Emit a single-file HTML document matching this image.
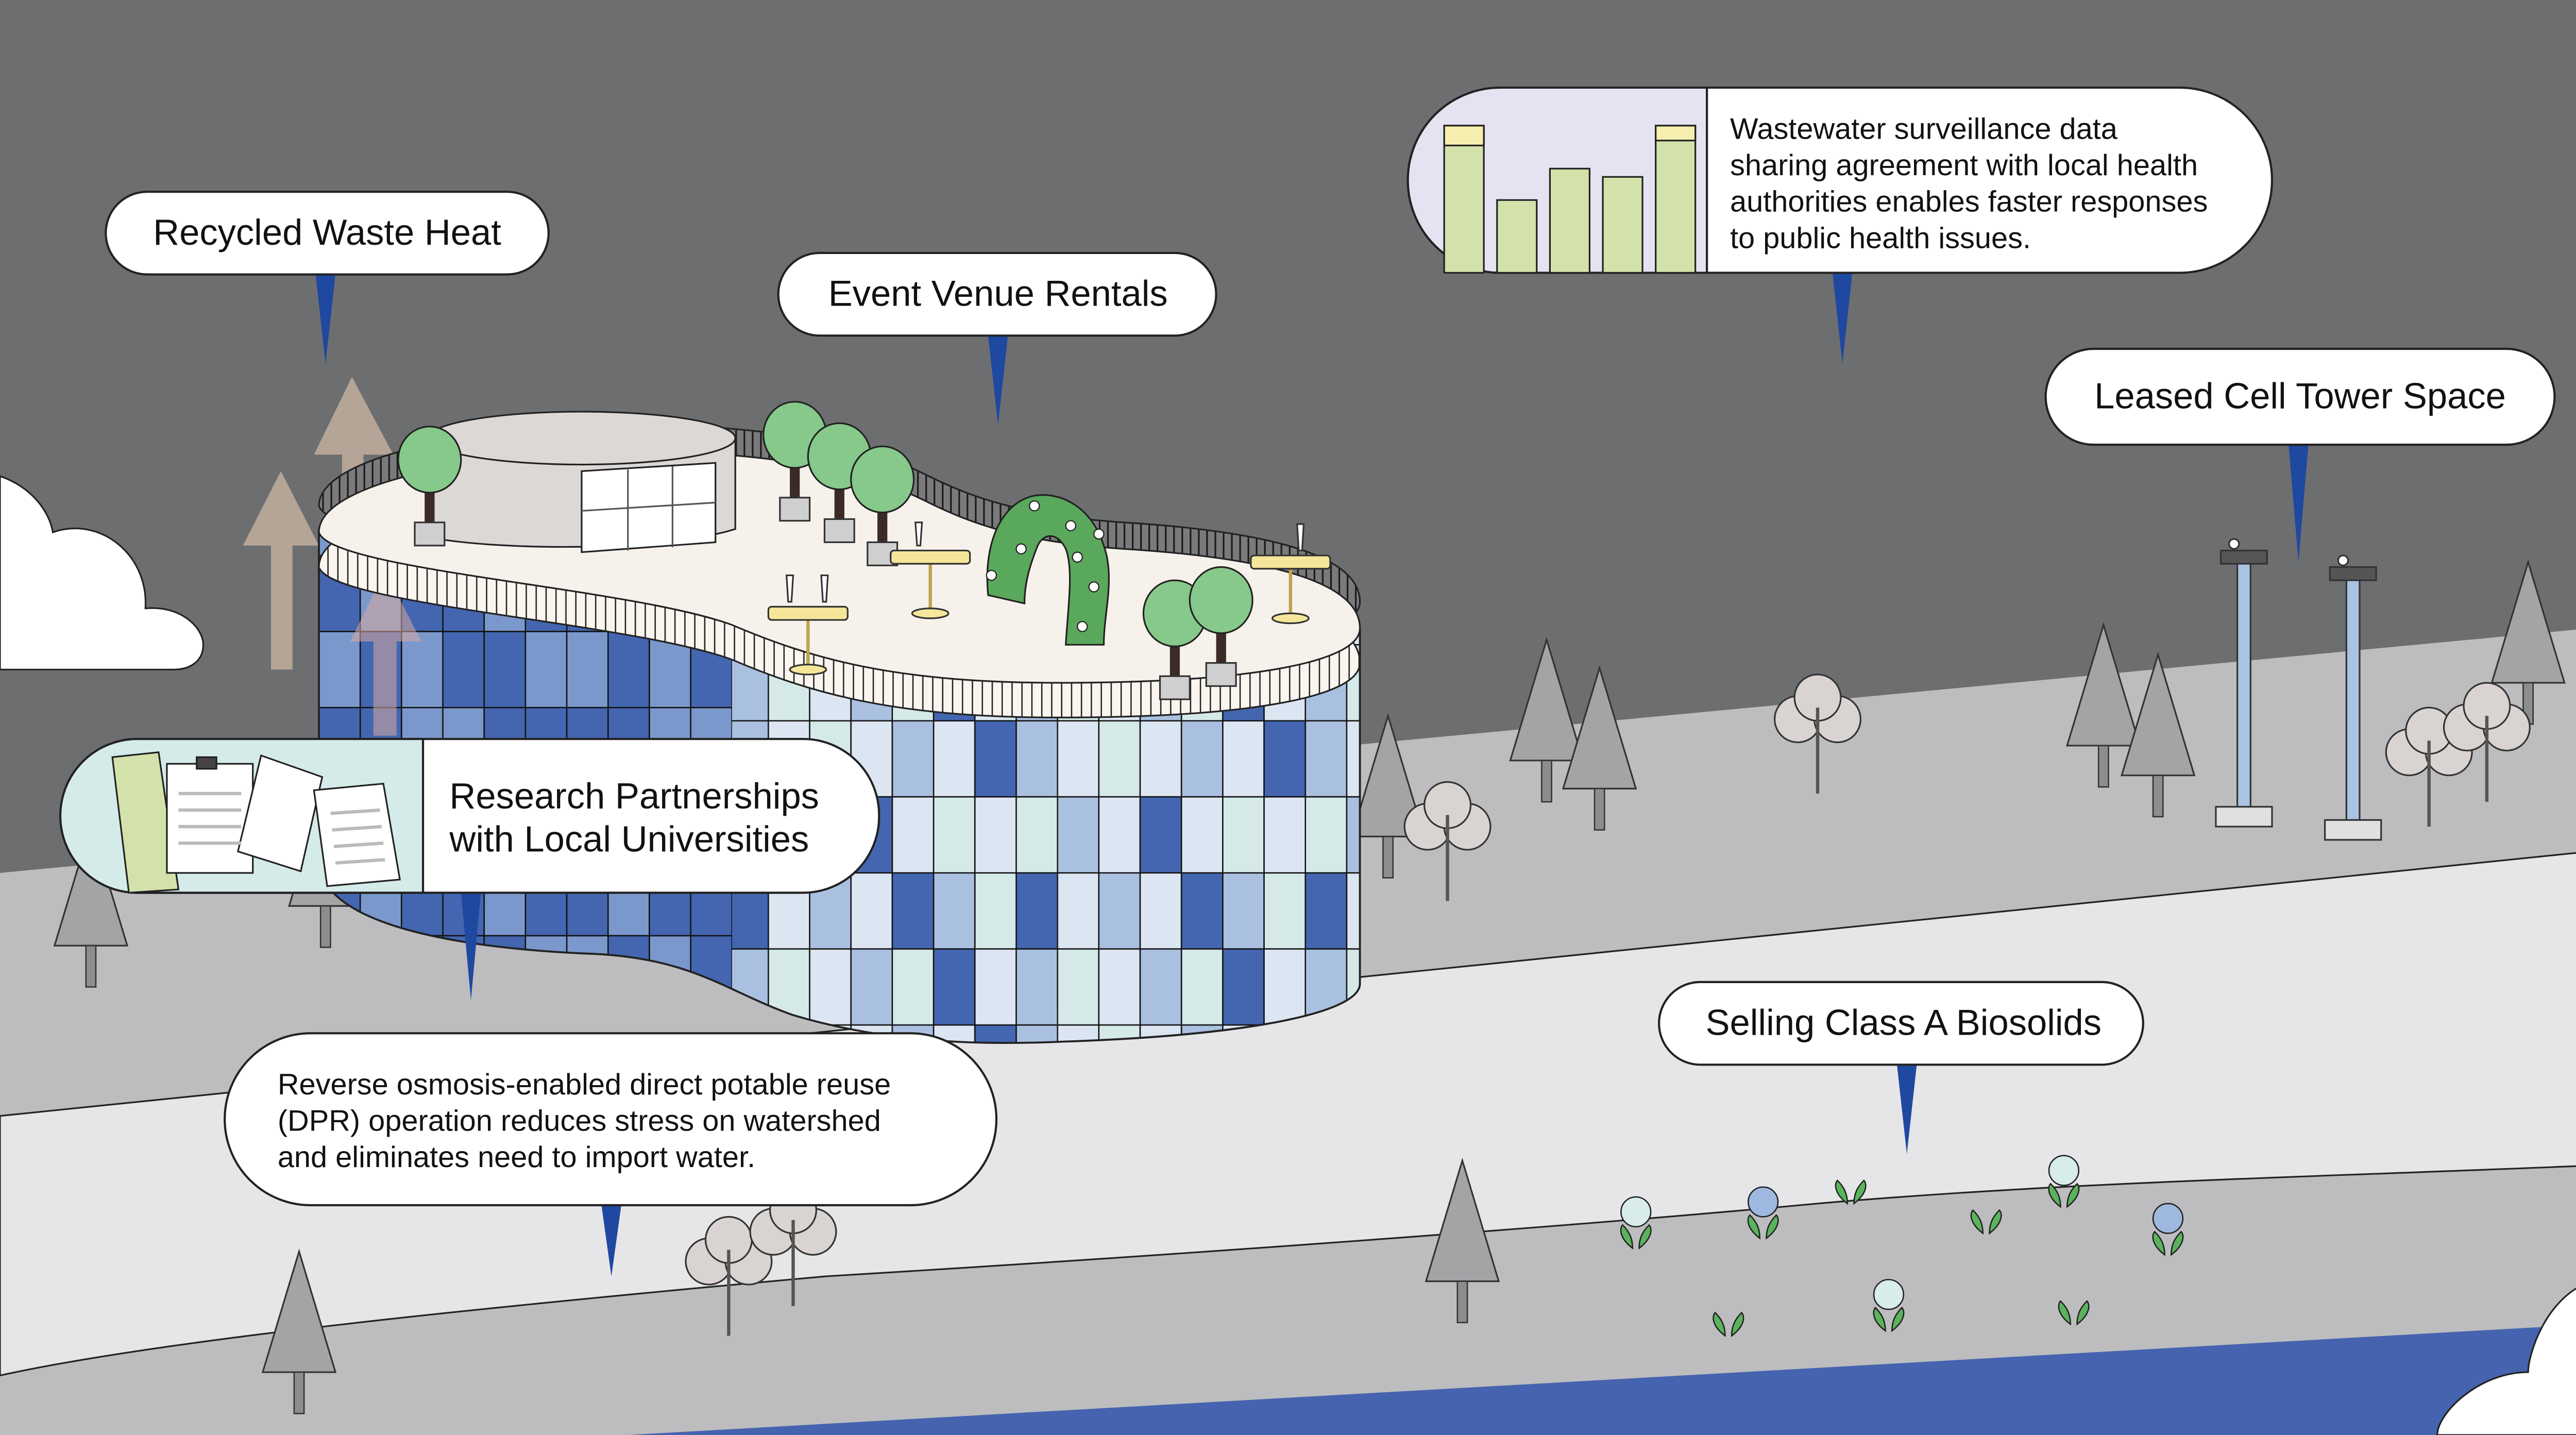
<!DOCTYPE html>
<html><head><meta charset="utf-8"><style>
html,body{margin:0;padding:0;background:#6d6e70;}
svg{display:block}
text{font-family:"Liberation Sans",sans-serif;fill:#111}
</style></head><body>
<svg width="5029" height="2785" viewBox="0 0 1568 868" preserveAspectRatio="none" xmlns="http://www.w3.org/2000/svg">
<defs>
<pattern id="rim" width="6" height="40" patternUnits="userSpaceOnUse"><rect width="6" height="40" fill="#fbf5ef"/><line x1="0.5" y1="0" x2="0.5" y2="40" stroke="#222" stroke-width="0.8"/></pattern>
<pattern id="rail" width="5" height="40" patternUnits="userSpaceOnUse"><rect width="5" height="40" fill="#7a7a7c"/><line x1="0.5" y1="0" x2="0.5" y2="40" stroke="#1a1a1a" stroke-width="1"/></pattern>
<pattern id="tA" width="150" height="184" patternUnits="userSpaceOnUse" x="193" y="336">
<g stroke="#111" stroke-width="0.8">
<rect x="0" y="0" width="25" height="46" fill="#4466b0"/><rect x="25" y="0" width="25" height="46" fill="#7b98cc"/><rect x="50" y="0" width="25" height="46" fill="#4466b0"/><rect x="75" y="0" width="25" height="46" fill="#4466b0"/><rect x="100" y="0" width="25" height="46" fill="#7b98cc"/><rect x="125" y="0" width="25" height="46" fill="#4466b0"/>
<rect x="0" y="46" width="25" height="46" fill="#7b98cc"/><rect x="25" y="46" width="25" height="46" fill="#4466b0"/><rect x="50" y="46" width="25" height="46" fill="#7b98cc"/><rect x="75" y="46" width="25" height="46" fill="#4466b0"/><rect x="100" y="46" width="25" height="46" fill="#4466b0"/><rect x="125" y="46" width="25" height="46" fill="#7b98cc"/>
<rect x="0" y="92" width="25" height="46" fill="#4466b0"/><rect x="25" y="92" width="25" height="46" fill="#4466b0"/><rect x="50" y="92" width="25" height="46" fill="#7b98cc"/><rect x="75" y="92" width="25" height="46" fill="#7b98cc"/><rect x="100" y="92" width="25" height="46" fill="#4466b0"/><rect x="125" y="92" width="25" height="46" fill="#4466b0"/>
<rect x="0" y="138" width="25" height="46" fill="#7b98cc"/><rect x="25" y="138" width="25" height="46" fill="#4466b0"/><rect x="50" y="138" width="25" height="46" fill="#4466b0"/><rect x="75" y="138" width="25" height="46" fill="#7b98cc"/><rect x="100" y="138" width="25" height="46" fill="#4466b0"/><rect x="125" y="138" width="25" height="46" fill="#7b98cc"/>
</g></pattern>
<pattern id="tB" width="175" height="184" patternUnits="userSpaceOnUse" x="465" y="436">
<g stroke="#111" stroke-width="0.8">
<rect x="0" y="0" width="25" height="46" fill="#dce6f2"/><rect x="25" y="0" width="25" height="46" fill="#d4e9e8"/><rect x="50" y="0" width="25" height="46" fill="#dce6f2"/><rect x="75" y="0" width="25" height="46" fill="#aac0e0"/><rect x="100" y="0" width="25" height="46" fill="#dce6f2"/><rect x="125" y="0" width="25" height="46" fill="#4466b0"/><rect x="150" y="0" width="25" height="46" fill="#aac0e0"/>
<rect x="0" y="46" width="25" height="46" fill="#aac0e0"/><rect x="25" y="46" width="25" height="46" fill="#dce6f2"/><rect x="50" y="46" width="25" height="46" fill="#4466b0"/><rect x="75" y="46" width="25" height="46" fill="#dce6f2"/><rect x="100" y="46" width="25" height="46" fill="#d4e9e8"/><rect x="125" y="46" width="25" height="46" fill="#dce6f2"/><rect x="150" y="46" width="25" height="46" fill="#d4e9e8"/>
<rect x="0" y="92" width="25" height="46" fill="#dce6f2"/><rect x="25" y="92" width="25" height="46" fill="#aac0e0"/><rect x="50" y="92" width="25" height="46" fill="#dce6f2"/><rect x="75" y="92" width="25" height="46" fill="#4466b0"/><rect x="100" y="92" width="25" height="46" fill="#aac0e0"/><rect x="125" y="92" width="25" height="46" fill="#d4e9e8"/><rect x="150" y="92" width="25" height="46" fill="#4466b0"/>
<rect x="0" y="138" width="25" height="46" fill="#d4e9e8"/><rect x="25" y="138" width="25" height="46" fill="#dce6f2"/><rect x="50" y="138" width="25" height="46" fill="#aac0e0"/><rect x="75" y="138" width="25" height="46" fill="#d4e9e8"/><rect x="100" y="138" width="25" height="46" fill="#4466b0"/><rect x="125" y="138" width="25" height="46" fill="#dce6f2"/><rect x="150" y="138" width="25" height="46" fill="#aac0e0"/>
</g></pattern>
<clipPath id="fac"><path d="M193,320 L193,520 C193,560 280,574 360,577 C420,580 440,600 480,614 C540,632 600,632 645,630 C760,626 823,612 823,595 L823,380 Z"/></clipPath>
<g id="cone"><polygon points="0,-98 -22,-25 22,-25" fill="#a3a4a6" stroke="#333" stroke-width="1"/><rect x="-3" y="-25" width="6" height="25" fill="#8c8d8f" stroke="#333" stroke-width="0.8"/></g>
<g id="puff"><circle cx="-12" cy="-45" r="14" fill="#d9d4d2" stroke="#333"/><circle cx="12" cy="-45" r="14" fill="#d9d4d2" stroke="#333"/><circle cx="0" cy="-58" r="14" fill="#d9d4d2" stroke="#333"/><line x1="0" y1="-52" x2="0" y2="0" stroke="#555" stroke-width="2"/></g>
<g id="leaf"><path d="M-2,8 C-10,2 -10,-4 -8,-6 C-4,-2 -2,2 -2,8Z M2,8 C10,2 10,-4 8,-6 C4,-2 2,2 2,8Z" fill="#5ab45c" stroke="#222" stroke-width="0.8"/></g>
<g id="rtree"><rect x="-3" y="-30" width="6" height="30" fill="#3b2a25"/><rect x="-9" y="-4" width="18" height="14" fill="#cfcfcf" stroke="#333"/><ellipse cx="0" cy="-42" rx="19" ry="20" fill="#86c98a" stroke="#222"/></g>
<g id="table"><line x1="0" y1="0" x2="0" y2="34" stroke="#bba650" stroke-width="2"/><ellipse cx="0" cy="34" rx="11" ry="3" fill="#f5e69a" stroke="#333"/><rect x="-24" y="-4" width="48" height="8" fill="#f5e69a" stroke="#333" rx="2"/></g>
<path id="roof" d="M193,322 C193,290 300,273 380,273 C460,273 520,283 560,303 C590,318 620,328 680,332 C760,337 823,350 823,380 C823,400 760,413 640,413 C540,413 490,398 443,378 C380,355 200,345 193,322 Z"/>
</defs>

<rect width="1568" height="868" fill="#6d6e70"/>
<polygon points="0,528 1568,380 1568,868 0,868" fill="#bdbdbf"/>
<path d="M0,675 L1568,515 L1568,705 C1400,712 1250,715 1100,728 C950,742 700,760 500,772 C300,790 100,810 0,832 Z" fill="#e6e6e8" stroke="#222" stroke-width="1"/>
<path d="M380,868 L1568,801 L1568,868 Z" fill="#4563ae"/>
<path d="M1568,775 C1540,785 1530,820 1530,830 C1500,830 1475,855 1475,868 L1568,868 Z" fill="#fff" stroke="#222"/>
<path d="M0,288 C20,295 30,310 32,322 C60,312 90,335 88,368 C110,366 123,380 123,390 C123,400 115,405 105,405 L0,405 Z" fill="#fff" stroke="#222"/>

<use href="#cone" x="936" y="485"/><use href="#cone" x="968" y="502"/><use href="#cone" x="1273" y="476"/><use href="#cone" x="1306" y="494"/><use href="#cone" x="1530" y="438"/><use href="#cone" x="840" y="531"/>
<use href="#puff" x="1100" y="480"/><use href="#puff" x="876" y="545"/><use href="#puff" x="1470" y="500"/><use href="#puff" x="1505" y="485"/>
<use href="#cone" x="55" y="597"/><use href="#cone" x="197" y="573"/>

<g stroke="#333" stroke-width="1">
<rect x="1354" y="340" width="8" height="150" fill="#a9c3e3"/><rect x="1341" y="488" width="34" height="12" fill="#e0e0e0"/><rect x="1344" y="333" width="28" height="8" fill="#555"/><circle cx="1352" cy="329" r="3" fill="#fff"/>
<rect x="1420" y="350" width="8" height="148" fill="#a9c3e3"/><rect x="1407" y="496" width="34" height="12" fill="#e0e0e0"/><rect x="1410" y="343" width="28" height="8" fill="#555"/><circle cx="1418" cy="339" r="3" fill="#fff"/>
</g>

<g fill="#b5a596">
<polygon points="170,285 147,330 164,330 164,405 177,405 177,330 193,330"/>
<polygon points="213,228 190,275 207,275 207,445 220,445 220,275 238,275"/>
</g>

<!-- building -->
<use href="#roof" transform="translate(0,-16)" fill="url(#rail)" stroke="#222"/>
<g clip-path="url(#fac)">
<rect x="190" y="300" width="280" height="330" fill="url(#tA)"/>
<path d="M443,378 C490,398 540,413 640,413 L640,640 L443,640 Z" fill="url(#tB)"/>
<rect x="640" y="380" width="185" height="260" fill="url(#tB)"/>
</g>
<path d="M193,320 L193,520 C193,560 280,574 360,577 C420,580 440,600 480,614 C540,632 600,632 645,630 C760,626 823,612 823,595 L823,380" fill="none" stroke="#222" stroke-width="1.2"/>
<polygon points="233,345 212,388 226,388 226,445 240,445 240,388 255,388" fill="#d8a9a0" opacity="0.55"/>
<use href="#roof" transform="translate(0,21)" fill="url(#rim)" stroke="#222"/>
<use href="#roof" fill="#f7f1ec" stroke="#222"/>
<path d="M260,265 L260,325 C300,333 400,334 445,320 L445,265 Z" fill="#dcd8d6" stroke="#222"/>
<ellipse cx="352" cy="265" rx="93" ry="16" fill="#dcd8d6" stroke="#222"/>
<path d="M352,285 L433,280 L433,328 L352,334 Z" fill="#fff" stroke="#222"/>
<g stroke="#555"><line x1="380" y1="284" x2="380" y2="333"/><line x1="407" y1="282" x2="407" y2="331"/><line x1="352" y1="309" x2="433" y2="304"/></g>
<use href="#rtree" x="260" y="320"/>
<use href="#rtree" x="481" y="305"/><use href="#rtree" x="508" y="318"/><use href="#rtree" x="534" y="332"/>
<use href="#table" x="563" y="337"/><use href="#table" x="781" y="340"/><use href="#table" x="489" y="371"/>
<g stroke="#333" fill="#fff"><path d="M554,316 L558,316 L557,330 L555,330Z"/><path d="M785,317 L789,317 L788,333 L786,333Z"/><path d="M476,348 L480,348 L479,364 L477,364Z"/><path d="M497,348 L501,348 L500,364 L498,364Z"/></g>
<path d="M598,360 C595,330 605,305 625,300 C640,297 660,305 668,330 C675,350 668,370 668,390 L645,390 C646,370 650,345 645,332 C640,322 632,322 628,330 C622,345 620,355 620,365 Z" fill="#5aa85c" stroke="#222"/>
<g fill="#fff" stroke="#222" stroke-width="0.7"><circle cx="626" cy="306" r="3"/><circle cx="648" cy="318" r="3"/><circle cx="618" cy="332" r="3"/><circle cx="652" cy="337" r="3"/><circle cx="600" cy="348" r="3"/><circle cx="662" cy="355" r="3"/><circle cx="655" cy="379" r="3"/><circle cx="665" cy="323" r="3"/></g>
<use href="#rtree" x="711" y="413"/><use href="#rtree" x="739" y="405"/>

<use href="#puff" x="441" y="808"/><use href="#puff" x="480" y="790"/>
<use href="#cone" x="181" y="855"/><use href="#cone" x="885" y="800"/>
<g stroke="#222" stroke-width="0.8">
<circle cx="990" cy="733" r="9" fill="#d8ecec"/><circle cx="1067" cy="727" r="9" fill="#9fb8e0"/><circle cx="1249" cy="708" r="9" fill="#d8ecec"/><circle cx="1312" cy="737" r="9" fill="#9fb8e0"/><circle cx="1143" cy="783" r="9" fill="#d8ecec"/>
</g>
<use href="#leaf" x="990" y="747"/><use href="#leaf" x="1067" y="741"/><use href="#leaf" x="1249" y="722"/><use href="#leaf" x="1312" y="751"/><use href="#leaf" x="1143" y="797"/>
<use href="#leaf" x="1120" y="720"/><use href="#leaf" x="1202" y="738"/><use href="#leaf" x="1046" y="800"/><use href="#leaf" x="1255" y="793"/>

<g fill="#1f48a0">
<polygon points="191,166 203,166 197,220"/><polygon points="598,203 610,203 604,257"/><polygon points="1109,165 1121,165 1115,220"/>
<polygon points="1385,269 1397,269 1391,340"/><polygon points="279,540 291,540 285,605"/><polygon points="364,729 376,729 370,772"/><polygon points="1148,644 1160,644 1154,698"/>
</g>

<g stroke="#222" stroke-width="1.3" fill="#fff">
<rect x="64" y="116" width="268" height="50" rx="25"/>
<rect x="471" y="153" width="265" height="50" rx="25"/>
<rect x="1238" y="211" width="308" height="58" rx="29"/>
<rect x="1004" y="594" width="293" height="50" rx="25"/>
<rect x="136" y="625" width="467" height="104" rx="52"/>
</g>
<rect x="852" y="53" width="523" height="112" rx="56" fill="#fff" stroke="#222" stroke-width="1.3"/>
<path d="M908,53 L1033,53 L1033,165 L908,165 A56,56 0 0 1 908,53Z" fill="#e5e3f2" stroke="#222" stroke-width="1.3"/>
<g fill="#d3e2aa" stroke="#222"><rect x="874" y="76" width="24" height="89"/><rect x="906" y="121" width="24" height="44"/><rect x="938" y="102" width="24" height="63"/><rect x="970" y="107" width="24" height="58"/><rect x="1002" y="76" width="24" height="89"/></g>
<g fill="#f6eeae" stroke="#222"><rect x="874" y="76" width="24" height="12"/><rect x="1002" y="76" width="24" height="9"/></g>
<rect x="37" y="447" width="495" height="93" rx="46" fill="#fff" stroke="#222" stroke-width="1.3"/>
<path d="M83,447 L256,447 L256,540 L83,540 A46,46 0 0 1 83,447Z" fill="#d5ebe9" stroke="#222" stroke-width="1.3"/>
<g stroke="#222" stroke-width="1"><polygon points="68,458 96,455 108,538 78,540" fill="#d3e2aa"/><rect x="101" y="462" width="52" height="66" fill="#fff"/><polygon points="158,457 195,470 182,527 144,515" fill="#fff"/><polygon points="190,478 232,474 242,532 198,536" fill="#fff"/><rect x="119" y="458" width="12" height="7" fill="#444"/></g>
<g stroke="#bbb" stroke-width="2"><line x1="108" y1="480" x2="146" y2="480"/><line x1="108" y1="490" x2="146" y2="490"/><line x1="108" y1="500" x2="146" y2="500"/><line x1="108" y1="510" x2="146" y2="510"/><line x1="200" y1="492" x2="230" y2="490"/><line x1="201" y1="502" x2="231" y2="500"/><line x1="202" y1="512" x2="232" y2="510"/><line x1="203" y1="522" x2="233" y2="520"/></g>

<text x="198" y="148" font-size="22" text-anchor="middle">Recycled Waste Heat</text>
<text x="604" y="185" font-size="22" text-anchor="middle">Event Venue Rentals</text>
<text x="1392" y="247" font-size="22" text-anchor="middle">Leased Cell Tower Space</text>
<text x="1152" y="626" font-size="22" text-anchor="middle">Selling Class A Biosolids</text>
<g font-size="18"><text x="1047" y="84">Wastewater surveillance data</text><text x="1047" y="106">sharing agreement with local health</text><text x="1047" y="128">authorities enables faster responses</text><text x="1047" y="150">to public health issues.</text></g>
<g font-size="22"><text x="272" y="489">Research Partnerships</text><text x="272" y="515">with Local Universities</text></g>
<g font-size="18"><text x="168" y="662">Reverse osmosis-enabled direct potable reuse</text><text x="168" y="684">(DPR) operation reduces stress on watershed</text><text x="168" y="706">and eliminates need to import water.</text></g>
</svg>
</body></html>
